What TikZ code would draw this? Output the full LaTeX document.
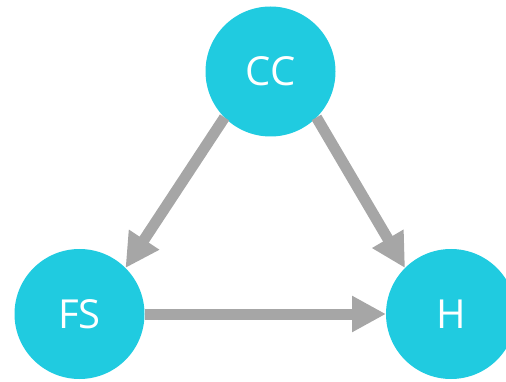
\documentclass[tikz,border=0pt]{standalone}
\usepackage{fontspec}
\setmainfont{Open Sans}
\usetikzlibrary{arrows.meta}
\definecolor{nodecyan}{HTML}{20CBE0}
\definecolor{arrowgray}{HTML}{A6A6A6}
\tikzset{
  bubble/.style={circle, fill=nodecyan, draw=none, minimum size=130pt, inner sep=0pt, outer sep=0pt, text=white, font=\fontsize{40}{40}\selectfont},
  link/.style={draw=arrowgray, line width=11pt, -{Triangle[length=34pt,width=34pt]}}
}
\begin{document}
\begin{tikzpicture}[x=1pt,y=-1pt]
\useasboundingbox (0,0) rectangle (506,382);
\node[bubble] (CC) at (270.5,71.5) {CC};
\node[bubble] (FS) at (79.5,314) {FS};
\node[bubble] (H) at (451,314) {H};
\draw[link] (CC.225) -- (FS.45);
\draw[link] (CC.-45) -- (H.135);
\draw[link] (FS.east) -- (H.west);
\end{tikzpicture}
\end{document}
